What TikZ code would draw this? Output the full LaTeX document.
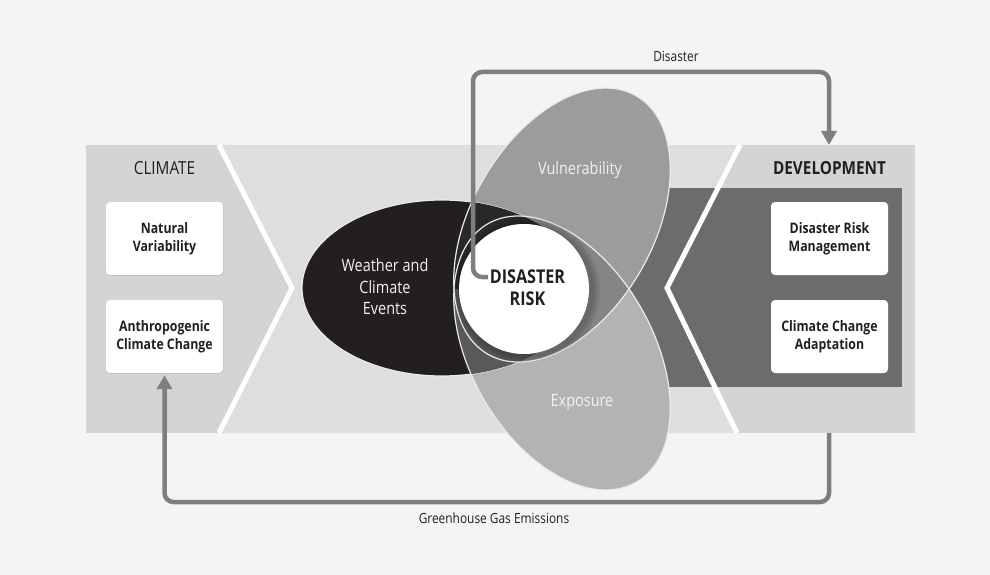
\documentclass[tikz,border=0pt]{standalone}
\usepackage{fontspec}
\setmainfont{Open Sans}[FakeStretch=0.85]
\usetikzlibrary{arrows.meta,shadows}

\definecolor{pagebg}{HTML}{F4F4F4}
\definecolor{sideband}{HTML}{D4D4D5}
\definecolor{midband}{HTML}{DEDEDF}
\definecolor{devdark}{HTML}{6C6C6E}
\definecolor{wxblack}{HTML}{231F20}
\definecolor{vulgray}{HTML}{9C9C9E}
\definecolor{expgray}{HTML}{B3B3B5}
\definecolor{wxvul}{HTML}{29282A}
\definecolor{wxexp}{HTML}{59595B}
\definecolor{vulexp}{HTML}{858587}
\definecolor{flowgray}{HTML}{7E7E80}

\begin{document}
\begin{tikzpicture}[x=1pt,y=-1pt]
    \newcommand{\bandtop}{145}
    \newcommand{\bandbot}{433}
    \newcommand{\leftx}{164.5}  % centre of the climate cards
    \newcommand{\rightx}{829.5} % centre of the development cards
    \newcommand{\wxshape}{(442,288) ellipse [x radius=140, y radius=88]}
    \newcommand{\vulshape}{(562,225) ellipse [x radius=149, y radius=91, rotate=60.2]}
    \newcommand{\expshape}{(562,353) ellipse [x radius=149, y radius=91, rotate=-60.2]}

    % styles for cards, labels and the two loops
    \tikzset{
        card/.style={
            fill=white,
            rounded corners=4pt,
            minimum width=117pt,
            minimum height=73pt,
            align=center,
            font=\bfseries\fontsize{14.5}{18}\selectfont,
            text=wxblack,
            drop shadow={shadow xshift=0.6pt, shadow yshift=-0.8pt, opacity=0.3}
            },
        heading/.style={font=\fontsize{18}{20}\selectfont, text=wxblack},
        inlabel/.style={font=\fontsize{17}{21.5}\selectfont, text=white!95!black, align=center},
        looplabel/.style={font=\fontsize{14}{16}\selectfont, text=wxblack},
        flow/.style={
            draw=flowgray,
            line width=4.5pt,
            rounded corners=9pt,
            -{Triangle[width=15pt,length=14pt]}
            },
        outline/.style={draw=white!92!black, line width=1.2pt}
    }

    \useasboundingbox (0,0) rectangle (990,575);
    \fill[pagebg] (0,0) rectangle (990,575);

    % band with the chevrons
    \fill[sideband] (86,\bandtop) rectangle (915,\bandbot);
    \fill[midband] (219,\bandtop) -- (740,\bandtop) -- (667,288) -- (737,\bandbot)
        -- (219,\bandbot) -- (292,288) -- cycle;
    \fill[devdark] (600,188) rectangle (902,387);
    \draw[white, line width=5pt] (219,\bandtop) -- (292,288) -- (219,\bandbot);
    \draw[white, line width=5pt] (740,\bandtop) -- (667,288) -- (737,\bandbot);

    % headings and cards
    \node[heading] (climate) at (\leftx,168) {CLIMATE};
    \node[heading, font=\bfseries\fontsize{18}{20}\selectfont] (devel) at (\rightx,168) {DEVELOPMENT};
    \node[card] (natvar) at (\leftx,238.5) {Natural\\Variability};
    \node[card] (acc) at (\leftx,336.5) {Anthropogenic\\Climate Change};
    \node[card] (drm) at (\rightx,238.5) {Disaster Risk\\Management};
    \node[card] (cca) at (\rightx,336.5) {Climate Change\\Adaptation};

    % the three ellipses
    \fill[wxblack] \wxshape;
    \fill[vulgray] \vulshape;
    \fill[expgray] \expshape;
    \draw[outline] \wxshape;
    % overlaps
    \begin{scope}
        \clip \vulshape;
        \fill[vulexp] \expshape;
        \fill[wxvul] \wxshape;
    \end{scope}
    \begin{scope}
        \clip \expshape;
        \clip (0,289) rectangle (990,575);
        \fill[wxexp] \wxshape;
    \end{scope}
    \draw[outline] \vulshape;
    \draw[outline] \expshape;

    % disaster risk in the middle, with a soft shade round it
    \begin{scope}
        \clip \vulshape;
        \foreach \r in {2,4,...,8}
            \fill[black, opacity=0.06] (527,291) circle (65+\r);
    \end{scope}
    \fill[white] (524,289) circle (65);

    \node[inlabel] (wx) at (385,287) {Weather and\\Climate\\Events};
    \node[inlabel] (vul) at (580,170) {Vulnerability};
    \node[inlabel] (exp) at (582,402) {Exposure};
    \node[font=\bfseries\fontsize{19}{22}\selectfont, text=wxblack, align=center] (risk) at (527.5,288) {DISASTER\\RISK};

    % loops
    \coordinate (dstart) at (488,277);
    \coordinate (devtop) at (829,\bandtop);
    \coordinate (devbot) at (829,\bandbot);
    \draw[flow] (dstart) -| (473,72) -| (devtop);
    \draw[flow, shorten >=2pt] (devbot) -- ++(0,69) -| (acc.south);
    \node[looplabel] (dislabel) at (676,56) {Disaster};
    \node[looplabel] (ghglabel) at (494,518) {Greenhouse Gas Emissions};
\end{tikzpicture}
\end{document}
